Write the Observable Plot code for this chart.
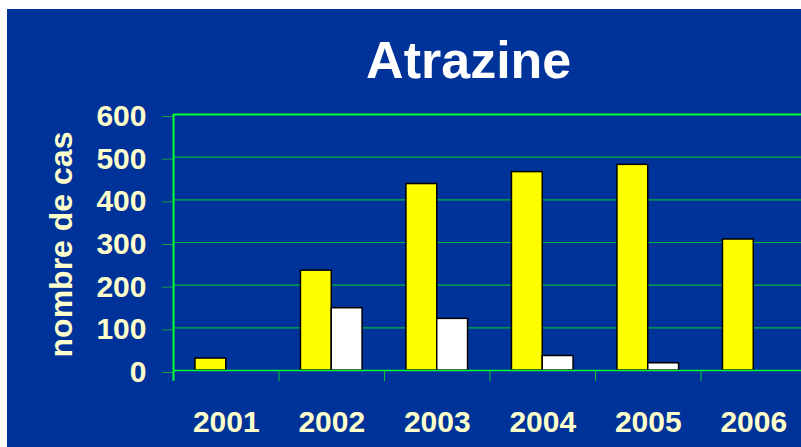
<!DOCTYPE html>
<html><head><meta charset="utf-8">
<script src="https://cdn.jsdelivr.net/npm/d3@7"></script>
<script src="https://cdn.jsdelivr.net/npm/@observablehq/plot@0.6"></script>
<style>
html,body{margin:0;padding:0;background:#fff;overflow:hidden;width:801px;height:447px;}
#panel{position:absolute;left:7px;top:9px;width:794px;height:438px;background:#003399;}
#title{position:absolute;left:468.7px;top:34.3px;transform:translateX(-50%);font:bold 52px "Liberation Sans",Arial,sans-serif;line-height:52px;color:#fff;white-space:nowrap;}
#chart{position:absolute;left:0;top:0;width:806px;height:447px;}
#chart svg{display:block;max-width:none !important;width:806px !important;height:447px !important;}
</style></head><body>
<div id="panel"></div>
<div id="title">Atrazine</div>
<div id="chart"></div>
<script>
const years = [2001, 2002, 2003, 2004, 2005, 2006];
const yellowValues = [28, 234, 437, 465, 482, 307];
const whiteValues = [0, 146, 121, 34, 17, 0];
const yTicks = [0, 100, 200, 300, 400, 500, 600];
const yLabel = "nombre de cas";

const barW = 0.292; // bar width as a fraction of one year band
const yellow = years.map((year, i) => ({year, value: yellowValues[i]}));
const white = years.map((year, i) => ({year, value: whiteValues[i]})).filter(d => d.value > 0);
const bounds = d3.range(years.length + 1).map(i => years[0] - 0.5 + i);
const font = '"Liberation Sans", Arial, sans-serif';

const plot = Plot.plot({
  width: 806, height: 447,
  marginLeft: 173, marginRight: 0, marginTop: 114, marginBottom: 77,
  x: {type: "linear", domain: [bounds[0], bounds[bounds.length - 1]]},
  y: {domain: [0, 600]},
  style: {background: "transparent", fontFamily: font, fontWeight: "bold", fontSize: "30px", color: "#ffffcc", overflow: "visible", maxWidth: "none"},
  marks: [
    Plot.ruleY(yTicks.slice(1, -1), {stroke: "#00b83a", strokeWidth: 1.2}),
    Plot.axisY({ticks: yTicks, tickSize: 11, tickPadding: 16, stroke: "#159a4a", fill: "#ffffcc", fontSize: 30, fontWeight: "bold", dy: 2, label: null, tickFormat: d => String(d)}),
    Plot.axisX({ticks: bounds.slice(1, -1), tickSize: 11, tickFormat: () => "", stroke: "#00c834", label: null}),
    Plot.axisX({ticks: years, tickSize: 0, tickPadding: 40, tickFormat: d => String(d), fill: "#ffffcc", fontSize: 30, fontWeight: "bold", label: null}),
    Plot.text([yLabel], {frameAnchor: "left", textAnchor: "middle", dx: -112, dy: 2, rotate: -90, fill: "#ffffcc", fontSize: 32, fontWeight: "bold"}),
    Plot.rectY(yellow, {x1: d => d.year - barW, x2: d => d.year, y: "value", fill: "#ffff00", stroke: "#000", strokeWidth: 1.5}),
    Plot.rectY(white, {x1: d => d.year, x2: d => d.year + barW, y: "value", fill: "#ffffff", stroke: "#000", strokeWidth: 1.5}),
    Plot.ruleY([600], {stroke: "#00ff33", strokeWidth: 2}),
    Plot.ruleY([0], {stroke: "#00ff33", strokeWidth: 1.5}),
    Plot.ruleX([bounds[0]], {y1: -25, y2: 600, stroke: "#00ff33", strokeWidth: 2})
  ]
});
document.getElementById("chart").append(plot);
</script>
</body></html>
